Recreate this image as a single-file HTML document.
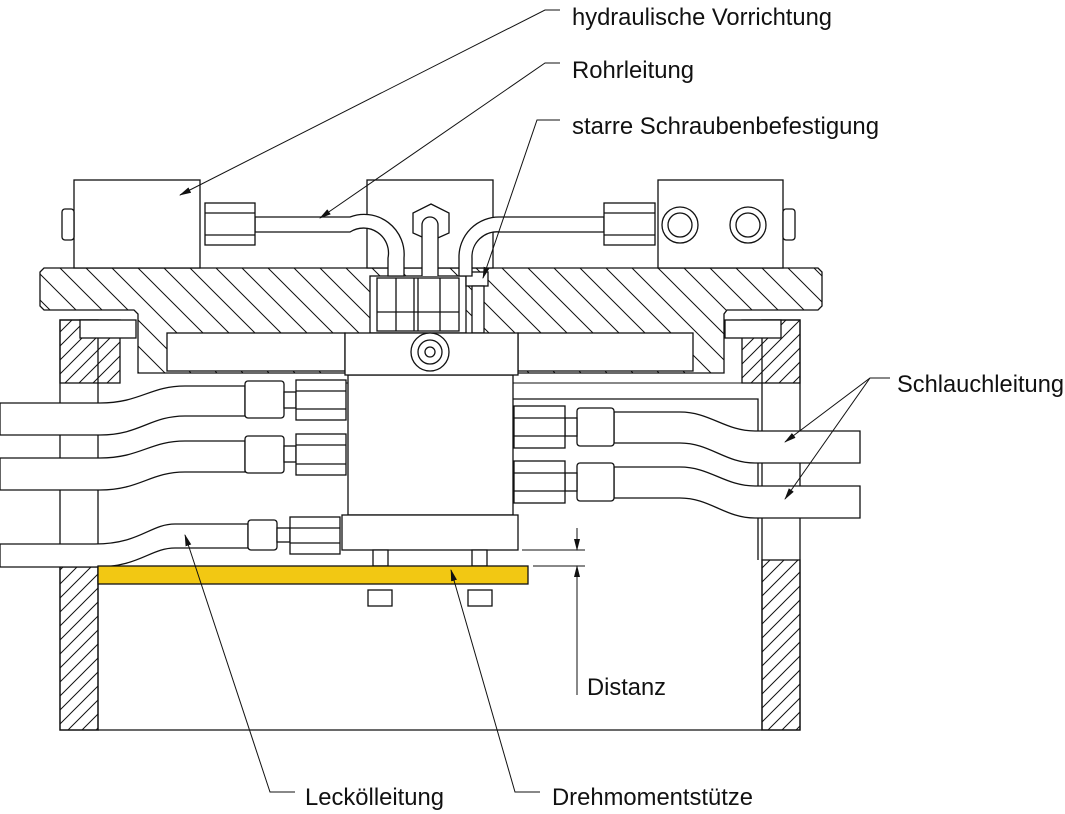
<!DOCTYPE html>
<html><head><meta charset="utf-8"><style>
html,body{margin:0;padding:0;background:#fff;}
svg{display:block;}
text{font-family:"Liberation Sans",sans-serif;font-size:24px;fill:#111;}
</style></head><body>
<svg width="1065" height="814" viewBox="0 0 1065 814" xmlns="http://www.w3.org/2000/svg">
<defs>
<pattern id="h1" patternUnits="userSpaceOnUse" width="26" height="26">
<path d="M-2,-2 L28,28 M-15,11 L15,41 M11,-15 L41,15" stroke="#111" stroke-width="1"/>
</pattern>
<pattern id="h2" patternUnits="userSpaceOnUse" width="14" height="14">
<path d="M-2,16 L16,-2 M-9,9 L9,-9 M5,23 L23,5" stroke="#111" stroke-width="1"/>
</pattern>
<marker id="ar" markerWidth="12" markerHeight="8" refX="11" refY="4" orient="auto" markerUnits="userSpaceOnUse">
<path d="M0,1 L12,4 L0,7 Z" fill="#111"/>
</marker>
</defs>
<g stroke="#111" stroke-width="1.3" fill="#fff">
<!-- housing walls -->
<rect x="60" y="320" width="38" height="410" fill="#fff"/>
<rect x="60" y="320" width="60" height="63" fill="url(#h2)"/>
<rect x="60" y="567" width="38" height="163" fill="url(#h2)"/>
<rect x="762" y="320" width="38" height="410" fill="#fff"/>
<rect x="742" y="320" width="58" height="63" fill="url(#h2)"/>
<rect x="762" y="560" width="38" height="170" fill="url(#h2)"/>
<line x1="98" y1="730" x2="762" y2="730"/>
<rect x="80" y="320" width="56" height="18"/>
<rect x="725" y="320" width="56" height="18"/>
<!-- inner frame right -->
<path d="M513,399 L758,399 L758,560" fill="none"/>
<path d="M345,383 L760,383" fill="none" stroke-width="1"/>
<!-- plate -->
<path d="M44,268 L818,268 L822,272 L822,306 L818,310 L727,310 L724,314 L724,373 L138,373 L138,314 L134,310 L44,310 L40,306 L40,272 Z" fill="url(#h1)"/>
<!-- flanges -->
<rect x="167" y="333" width="178" height="38"/>
<rect x="518" y="333" width="175" height="38"/>
<!-- central cutout with fittings -->
<rect x="370" y="276" width="96" height="57"/>
<rect x="377" y="278" width="82" height="53"/>
<line x1="396" y1="278" x2="396" y2="331"/><line x1="414" y1="278" x2="414" y2="331"/><line x1="418" y1="278" x2="418" y2="331"/><line x1="440" y1="278" x2="440" y2="331"/>
<line x1="377" y1="312" x2="459" y2="312"/>
<rect x="466" y="272" width="22" height="14"/>
<rect x="472" y="286" width="12" height="47"/>
<!-- blocks on top -->
<rect x="74" y="180" width="126" height="88"/>
<rect x="62" y="209" width="12" height="31" rx="3"/>
<rect x="367" y="180" width="126" height="88"/>
<rect x="658" y="180" width="125" height="88"/>
<rect x="783" y="209" width="12" height="31" rx="3"/>
<circle cx="680" cy="225" r="18"/><circle cx="680" cy="225" r="12"/>
<circle cx="748" cy="225" r="18"/><circle cx="748" cy="225" r="12"/>
<!-- pipes -->
<path d="M255,217 L350,217 A40,40 0 0 1 404,258 L404,276 L388,276 L388,258 A25,25 0 0 0 350,232 L255,232 Z"/>
<path d="M604,217 L500,217 A40,40 0 0 0 459,258 L459,276 L472,276 L472,258 A25,25 0 0 1 500,232 L604,232 Z"/>
<rect x="205" y="203" width="50" height="42"/><line x1="205" y1="213" x2="255" y2="213"/><line x1="205" y1="235" x2="255" y2="235"/>
<rect x="604" y="203" width="51" height="42"/><line x1="604" y1="213" x2="655" y2="213"/><line x1="604" y1="235" x2="655" y2="235"/>
<path d="M431,204 L449,213 L449,233 L431,241 L413,233 L413,213 Z"/>
<path d="M422,276 L422,225 A8,8 0 0 1 438,225 L438,276"/>
<!-- union -->
<rect x="348" y="375" width="165" height="140"/>
<rect x="345" y="333" width="173" height="42"/>
<circle cx="430" cy="352" r="19"/><circle cx="430" cy="352" r="12"/><circle cx="430" cy="352" r="5"/>
<rect x="342" y="515" width="176" height="35"/>
<rect x="373" y="550" width="15" height="16"/><rect x="472" y="550" width="15" height="16"/>
<rect x="368" y="590" width="24" height="16"/><rect x="468" y="590" width="24" height="16"/>
<!-- left hoses -->
<path d="M0,403 L100,403 C140,403 150,386 185,386 L245,386 L245,416 L185,416 C150,416 140,435 100,435 L0,435 Z"/>
<rect x="245" y="381" width="39" height="37" rx="3"/><rect x="284" y="392" width="12" height="16"/><rect x="296" y="380" width="50" height="40"/><line x1="296" y1="391" x2="346" y2="391"/><line x1="296" y1="409" x2="346" y2="409"/>
<path d="M0,458 L100,458 C140,458 150,441 185,441 L245,441 L245,472 L185,472 C150,472 140,490 100,490 L0,490 Z"/>
<rect x="245" y="436" width="39" height="37" rx="3"/><rect x="284" y="446" width="12" height="16"/><rect x="296" y="434" width="50" height="41"/><line x1="296" y1="445" x2="346" y2="445"/><line x1="296" y1="464" x2="346" y2="464"/>
<path d="M0,544 L95,544 C140,544 150,524 175,524 L248,524 L248,548 L175,548 C150,548 140,567 95,567 L0,567 Z"/>
<rect x="248" y="520" width="29" height="30" rx="3"/><rect x="277" y="528" width="13" height="14"/><rect x="290" y="517" width="50" height="37"/><line x1="290" y1="528" x2="340" y2="528"/><line x1="290" y1="543" x2="340" y2="543"/>
<!-- right hoses -->
<path d="M614,412 L680,412 C710,412 725,431 755,431 L860,431 L860,463 L755,463 C725,463 710,443 680,443 L614,443 Z"/>
<rect x="577" y="408" width="37" height="38" rx="3"/><rect x="565" y="418" width="12" height="18"/><rect x="514" y="406" width="51" height="42"/><line x1="514" y1="418" x2="565" y2="418"/><line x1="514" y1="436" x2="565" y2="436"/>
<path d="M614,467 L680,467 C710,467 725,486 755,486 L860,486 L860,518 L755,518 C725,518 710,498 680,498 L614,498 Z"/>
<rect x="577" y="463" width="37" height="38" rx="3"/><rect x="565" y="473" width="12" height="18"/><rect x="514" y="461" width="51" height="42"/><line x1="514" y1="473" x2="565" y2="473"/><line x1="514" y1="491" x2="565" y2="491"/>
<!-- yellow plate -->
<rect x="98" y="566" width="430" height="18" fill="#f2c813"/>
</g>
<!-- dimension -->
<g stroke="#111" stroke-width="1" fill="none">
<line x1="522" y1="550" x2="585" y2="550"/>
<line x1="533" y1="566" x2="585" y2="566"/>
<line x1="577" y1="528" x2="577" y2="550" marker-end="url(#ar)"/>
<line x1="577" y1="695" x2="577" y2="566" marker-end="url(#ar)"/>
<!-- leaders -->
<path d="M560,10 L545,10 L180,195" marker-end="url(#ar)"/>
<path d="M560,63 L545,63 L320,218" marker-end="url(#ar)"/>
<path d="M560,120 L537,120 L483,278" marker-end="url(#ar)"/>
<path d="M890,378 L870,378 L785,442" marker-end="url(#ar)"/>
<path d="M870,378 L785,499" marker-end="url(#ar)"/>
<path d="M295,792 L270,792 L185,535" marker-end="url(#ar)"/>
<path d="M540,792 L515,792 L451,570" marker-end="url(#ar)"/>
</g>
<text x="572" y="25" textLength="260" lengthAdjust="spacingAndGlyphs">hydraulische Vorrichtung</text>
<text x="572" y="78" textLength="122" lengthAdjust="spacingAndGlyphs">Rohrleitung</text>
<text x="572" y="134" textLength="307" lengthAdjust="spacingAndGlyphs">starre Schraubenbefestigung</text>
<text x="897" y="392" textLength="167" lengthAdjust="spacingAndGlyphs">Schlauchleitung</text>
<text x="587" y="695" textLength="79" lengthAdjust="spacingAndGlyphs">Distanz</text>
<text x="305" y="805" textLength="139" lengthAdjust="spacingAndGlyphs">Leckölleitung</text>
<text x="552" y="805" textLength="201" lengthAdjust="spacingAndGlyphs">Drehmomentstütze</text>
</svg>
</body></html>
